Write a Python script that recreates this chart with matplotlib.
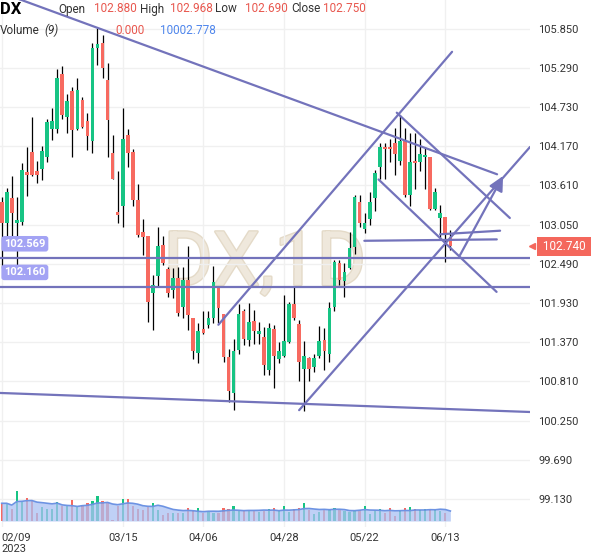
import numpy as np
import pandas as pd
import matplotlib
matplotlib.use('Agg')
import matplotlib.pyplot as plt
import matplotlib.patheffects as pe
from matplotlib.transforms import blended_transform_factory

plt.rcParams['font.family'] = ['Roboto', 'DejaVu Sans']

# Daily DX candles, index 0 = 2023-02-09 (one per weekday)
opens = [103.38, 103.08, 103.43, 103.08, 103.09, 103.80, 104.09, 103.82, 103.84, 104.01,
         104.41, 104.42, 105.20, 104.59, 104.96, 104.41, 104.83, 104.53, 104.25, 105.58,
         105.64, 105.12, 104.07, 103.23, 103.31, 104.33, 104.09, 103.40, 102.95, 102.89,
         102.08, 102.31, 102.76, 102.42, 102.12, 102.29, 101.88, 102.26, 101.72, 101.22,
         101.56, 101.62, 101.71, 102.16, 101.77, 101.16, 100.65, 101.26, 101.82, 101.40,
         101.67, 101.49, 101.44, 100.97, 101.56, 101.13, 101.18, 101.37, 101.92, 101.63,
         100.99, 101.14, 101.02, 101.18, 101.40, 101.20, 101.88, 102.50, 102.25, 102.43,
         102.73, 103.38, 102.99, 103.13, 103.43, 103.88, 104.16, 104.16, 104.21, 103.96,
         104.24, 103.47, 103.96, 103.94, 104.02, 104.01, 103.28, 103.14, 103.16, 102.880]
highs = [103.45, 103.57, 103.74, 103.45, 103.93, 104.16, 104.59, 103.96, 104.17, 104.56,
         104.72, 105.27, 105.31, 104.92, 105.02, 105.14, 104.87, 104.64, 105.64, 105.86,
         105.76, 105.36, 104.33, 103.81, 104.71, 104.41, 104.13, 103.63, 103.13, 102.89,
         102.33, 103.01, 102.89, 102.44, 102.43, 102.44, 102.44, 102.74, 101.72, 101.65,
         101.81, 101.81, 102.46, 102.16, 101.77, 101.27, 101.41, 101.92, 101.84, 101.93,
         101.83, 101.66, 101.59, 101.64, 101.61, 101.38, 102.04, 101.95, 102.17, 101.69,
         101.39, 101.16, 101.20, 101.60, 101.57, 101.95, 102.55, 102.55, 102.50, 102.94,
         103.47, 103.47, 103.21, 103.52, 103.83, 104.22, 104.21, 104.28, 104.43, 104.62,
         104.43, 104.36, 104.36, 104.28, 104.16, 104.02, 103.57, 103.33, 103.16, 102.968]
lows = [102.43, 102.69, 102.83, 102.45, 103.05, 103.46, 103.75, 103.65, 103.69, 103.94,
        104.26, 104.36, 104.56, 104.36, 104.02, 104.40, 104.43, 104.11, 104.08, 105.33,
        105.14, 104.01, 103.70, 103.07, 103.02, 103.88, 103.32, 102.87, 102.62, 101.66,
        101.55, 102.17, 102.47, 102.02, 102.00, 101.74, 101.71, 101.55, 101.13, 101.07,
        101.49, 101.57, 101.64, 101.65, 101.09, 100.51, 100.40, 101.20, 101.33, 101.31,
        101.34, 101.34, 100.90, 100.90, 100.71, 101.07, 101.16, 101.36, 101.69, 100.82,
        100.39, 100.81, 100.94, 101.14, 100.98, 101.09, 101.81, 102.19, 102.02, 102.41,
        102.63, 103.01, 102.93, 103.05, 103.24, 103.70, 103.70, 103.95, 103.76, 103.90,
        103.45, 103.31, 103.56, 103.81, 103.56, 103.26, 103.26, 102.86, 102.52, 102.690]
closes = [103.08, 103.52, 103.22, 103.12, 103.83, 103.76, 103.76, 103.76, 104.10, 104.52,
          104.53, 105.14, 104.61, 104.82, 104.40, 104.98, 104.44, 104.31, 105.58, 105.63,
          105.29, 104.54, 103.70, 103.19, 104.27, 104.08, 103.40, 102.90, 102.88, 101.95,
          102.19, 102.75, 102.50, 102.08, 102.29, 101.79, 102.26, 101.76, 101.24, 101.53,
          101.50, 101.72, 102.23, 101.86, 101.16, 100.68, 101.24, 101.78, 101.41, 101.66,
          101.53, 101.53, 101.05, 101.58, 101.18, 101.24, 101.39, 101.91, 101.71, 101.09,
          101.17, 100.99, 101.14, 101.39, 101.25, 101.86, 102.51, 102.26, 102.38, 102.72,
          103.45, 103.07, 103.08, 103.38, 103.79, 104.16, 104.13, 104.13, 104.06, 104.24,
          103.47, 103.95, 103.93, 104.06, 104.05, 103.28, 103.52, 103.21, 102.93, 102.750]
volumes = [17700, 17700, 12300, 30400, 20400, 23500, 21200, 7700, 14200, 12300,
           12300, 18800, 14600, 15400, 21200, 14600, 14600, 17700, 20400, 24600,
           20000, 18800, 800, 15400, 22300, 22300, 14600, 12300, 11200, 14600,
           17700, 11200, 6200, 7700, 8500, 8500, 8100, 12700, 11500, 13000,
           7700, 10000, 8100, 7700, 12700, 12300, 15400, 9600, 9600, 9600,
           10000, 9000, 10000, 12000, 13000, 10000, 15000, 9000, 12000, 13000,
           17700, 11000, 7000, 9000, 11000, 12000, 13000, 12000, 10000, 9000,
           10000, 11000, 14600, 7000, 11000, 12000, 8000, 13000, 5000, 11000,
           13000, 14000, 12000, 11000, 12000, 11000, 12000, 10025, 8000, 0]

last_price = 102.740
date_ticks = [0, 24, 40, 56, 72, 88]
date_labels = ['02/09\n2023', '03/15', '04/06', '04/28', '05/22', '06/13']
price_ticks = [99.13, 99.69, 100.25, 100.81, 101.37, 101.93, 102.49,
               103.05, 103.61, 104.17, 104.73, 105.29, 105.85]

# drawn objects: (index, price) end points
levels = [102.569, 102.160]
trend_lines = [
    [(-1.0, 106.39), (98.27, 103.77)],     # long resistance
    [(-0.34, 100.646), (104.8, 100.374)],  # bottom support
    [(59.0, 100.40), (104.8, 104.16)],     # channel, lower
    [(42.98, 101.62), (89.34, 105.52)],    # channel, upper
    [(78.37, 104.65), (100.8, 103.146)],   # falling channel, upper
    [(74.76, 103.696), (98.17, 102.09)],   # falling channel, lower
    [(71.94, 102.82), (98.21, 102.84)],
    [(86.96, 102.913), (98.87, 102.964)],
]
arrow = [(90.93, 102.617), (99.46, 103.746)]

GREEN = '#17c484'
RED = '#f76a60'
LINE = '#7373bb'
TXT = '#333333'


def draw_candles(ax, x, o, h, l, c):
    up = c >= o
    cols = np.where(up, GREEN, RED)
    ax.vlines(x, l, h, color='black', lw=0.9, zorder=3)
    body = np.maximum(np.abs(c - o), 0.025)
    ax.bar(x, body, bottom=np.minimum(o, c), width=0.72, color=cols, zorder=4)
    return cols


def main():
    o = np.array(opens); h = np.array(highs); l = np.array(lows); c = np.array(closes)
    x = np.arange(len(o))

    fig = plt.figure(figsize=(6, 5.58), dpi=100)
    ax = fig.add_axes([0, 31 / 558, 530 / 600, 527 / 558])

    # volume pane on a twin axis, 0 at the bottom of the pane
    ax2 = ax.twinx()
    ax2.set_ylim(-6000, 521000)
    ax2.set_yticks([])
    for s in ax2.spines.values():
        s.set_visible(False)

    ax.set_xlim(-0.34, 104.8)
    ax.set_ylim(98.731, 106.26)
    for s in ax.spines.values():
        s.set_visible(False)
    ax.grid(True, color='#f0f0f0', lw=1, zorder=0)

    # watermark
    ax.text(52.2, 102.19, 'DX,1D', fontsize=54, color='#efe8dc', ha='center', va='baseline',
            zorder=1, path_effects=[pe.withStroke(linewidth=2, foreground='#e4dac8')])

    cols = draw_candles(ax, x, o, h, l, c)

    for lv in levels:
        ax.axhline(lv, color=LINE, lw=1.6, zorder=5)
        ax.annotate(f'{lv:.3f}', xy=(-0.34, lv), xytext=(3, 10.5), textcoords='offset points',
                    ha='left', va='center', fontsize=8, color='white', fontweight='bold',
                    bbox=dict(boxstyle='round,pad=0.25', fc='#a3a3f4', ec='none'), zorder=6)
    for (x0, y0), (x1, y1) in trend_lines:
        ax.plot([x0, x1], [y0, y1], color=LINE, lw=1.6, zorder=5, solid_capstyle='round')
    ax.annotate('', xy=arrow[1], xytext=arrow[0],
                arrowprops=dict(arrowstyle='-|>', color=LINE, lw=1.6, mutation_scale=22,
                                shrinkA=0, shrinkB=0), zorder=5)

    ax.yaxis.tick_right()
    ax.set_yticks(price_ticks, [f'{v:.3f}' for v in price_ticks])
    ax.tick_params(axis='y', length=0, pad=6, labelsize=8, labelcolor=TXT,
                   left=False, labelleft=False, right=True, labelright=True)
    ax.set_xticks(date_ticks, date_labels)
    ax.tick_params(axis='x', length=0, pad=4, labelsize=8, labelcolor=TXT)
    ax.get_xticklabels()[0].set_ha('left')

    vol = np.array(volumes, dtype=float)
    ax2.bar(x, vol, width=0.45, color=cols, zorder=1)
    ma = pd.Series(vol).rolling(9, min_periods=1).mean().values
    ax2.fill_between(x, 0, ma, color='#aac1f3', alpha=0.75, lw=0, zorder=2)
    ax2.plot(x, ma, color='#6d93e3', lw=1.2, zorder=3)
    ax2.set_xlim(-0.34, 104.8)

    # last price tag
    tr = blended_transform_factory(ax.transAxes, ax.transData)
    ax2.text(1.064, last_price, f' {last_price:.3f} ', transform=tr, ha='center', va='center',
             fontsize=8.5, color='white', clip_on=False, zorder=7,
             bbox=dict(boxstyle='square,pad=0.25', fc='#f4675c', ec='none'))
    ax2.plot([1.004], [last_price], marker='<', ms=5, color='#f4675c', transform=tr,
             clip_on=False, zorder=7)

    # header
    def ft(xp, yp, s, **kw):
        fig.text(xp / 600, 1 - yp / 558, s, va='center', ha='left', **kw)
    ft(0, 9, 'DX', fontsize=12, fontweight='bold', color='black')
    ft(58, 9, 'Open', fontsize=8.5, color=TXT)
    ft(94, 9, f'{o[-1]:.3f}', fontsize=8.5, color='#e8574e')
    ft(140, 9, 'High', fontsize=8.5, color=TXT)
    ft(170, 9, f'{h[-1]:.3f}', fontsize=8.5, color='#e8574e')
    ft(215, 9, 'Low', fontsize=8.5, color=TXT)
    ft(245, 9, f'{l[-1]:.3f}', fontsize=8.5, color='#e8574e')
    ft(291, 9, 'Close', fontsize=8.5, color=TXT)
    ft(323, 9, f'{c[-1]:.3f}', fontsize=8.5, color='#e8574e')
    ft(0, 30, 'Volume', fontsize=8.5, color=TXT)
    ft(44, 30, '(9)', fontsize=8.5, color=TXT, style='italic')
    ft(115, 30, f'{vol[-1]:.3f}', fontsize=8.5, color='#e8574e')
    ft(160, 30, f'{ma[-1]:.3f}', fontsize=8.5, color='#4f86ec')

    fig.savefig('out.png', dpi=100)


if __name__ == '__main__':
    main()
